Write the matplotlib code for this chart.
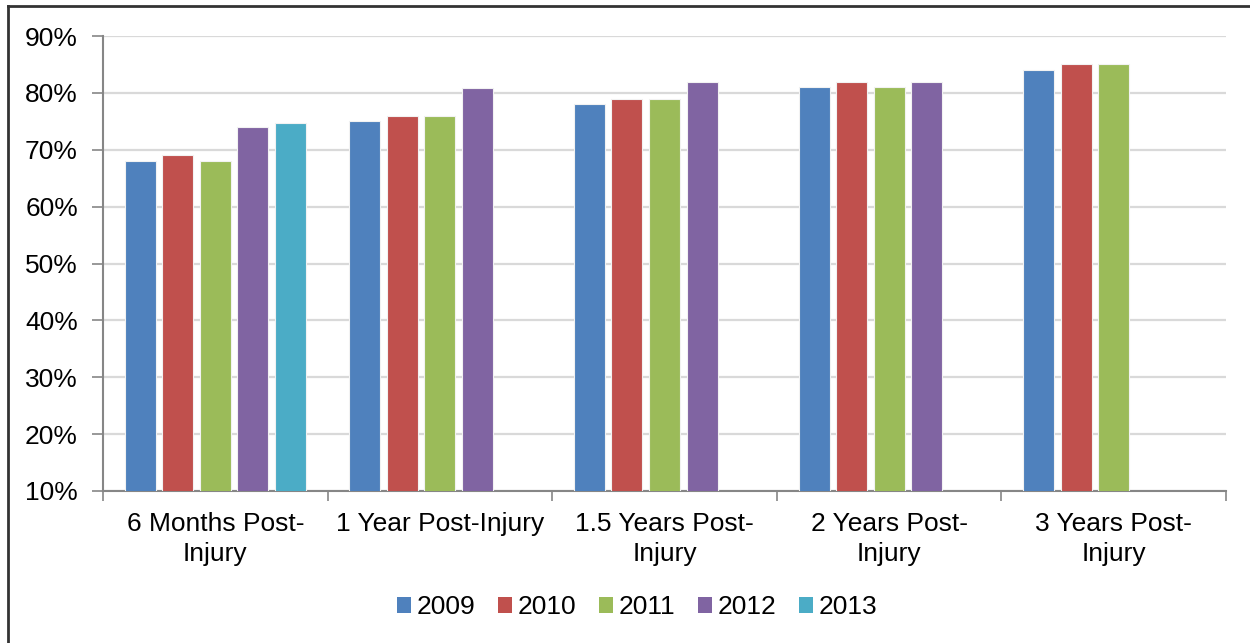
import matplotlib
matplotlib.use("Agg")
import matplotlib.pyplot as plt
import numpy as np
from matplotlib.lines import Line2D
from matplotlib.patches import Patch

categories = ["6 Months Post-\nInjury", "1 Year Post-Injury", "1.5 Years Post-\nInjury",
              "2 Years Post-\nInjury", "3 Years Post-\nInjury"]
series_names = ["2009", "2010", "2011", "2012", "2013"]
v2009 = [68, 75, 78, 81, 84]
v2010 = [69, 76, 79, 82, 85]
v2011 = [68, 76, 79, 81, 85]
v2012 = [74, 80.9, 81.9, 82, np.nan]
v2013 = [74.7, np.nan, np.nan, np.nan, np.nan]
series_values = [v2009, v2010, v2011, v2012, v2013]
colors = ["#4F81BD", "#C0504D", "#9BBB59", "#8064A2", "#4BACC6"]
yticks = [10, 20, 30, 40, 50, 60, 70, 80, 90]

plt.rcParams['font.family'] = ['Liberation Sans', 'DejaVu Sans']

fig = plt.figure(figsize=(12.5, 6.43), dpi=100)
ax = fig.add_axes([103/1250, 1-491/643, (1226-103)/1250, (491-36)/643])

x = np.arange(len(categories))
step = 0.167
width = 0.138
for j, (name, vals, c) in enumerate(zip(series_names, series_values, colors)):
    ax.bar(x + (j-2)*step, vals, width=width, color=c, edgecolor="#F2F2F2",
           linewidth=0.8, label=name, zorder=3)

ax.set_ylim(10, 90)
ax.set_xlim(-0.5, 4.5)
ax.set_yticks(yticks)
ax.set_yticklabels([f"{t}%" for t in yticks], fontsize=19)
ax.yaxis.grid(True, color="#D9D9D9", linewidth=1.6, zorder=0)
ax.set_axisbelow(True)

ax.set_xticks(x)
ax.set_xticklabels(categories, fontsize=19, linespacing=1.35)
ax.tick_params(axis='x', length=0, pad=15)
ax.set_xticks(np.arange(-0.5, 5.0, 1.0), minor=True)
ax.tick_params(axis='x', which='minor', length=7, width=1.2, color="#868686", direction='out')
ax.tick_params(axis='y', length=8, width=1.2, color="#868686", direction='out', pad=10)

for s in ["top", "right"]:
    ax.spines[s].set_visible(False)
for s in ["left", "bottom"]:
    ax.spines[s].set_color("#868686")
    ax.spines[s].set_linewidth(1.5)

handles = [Patch(facecolor=c, edgecolor='none') for c in colors]
leg = fig.legend(handles, series_names, loc='center', bbox_to_anchor=(637/1250, 1-607/643),
                 ncol=5, frameon=False, fontsize=19, handlelength=0.55, handleheight=0.55,
                 handletextpad=0.2, columnspacing=0.85)

fig.add_artist(Line2D([7.5/1250, 7.5/1250], [0, 1-6/643], color="#333333", linewidth=2,
                      transform=fig.transFigure))
fig.add_artist(Line2D([7.5/1250, 1], [1-6/643, 1-6/643], color="#333333", linewidth=2,
                      transform=fig.transFigure))

fig.savefig("out.png", dpi=100)
